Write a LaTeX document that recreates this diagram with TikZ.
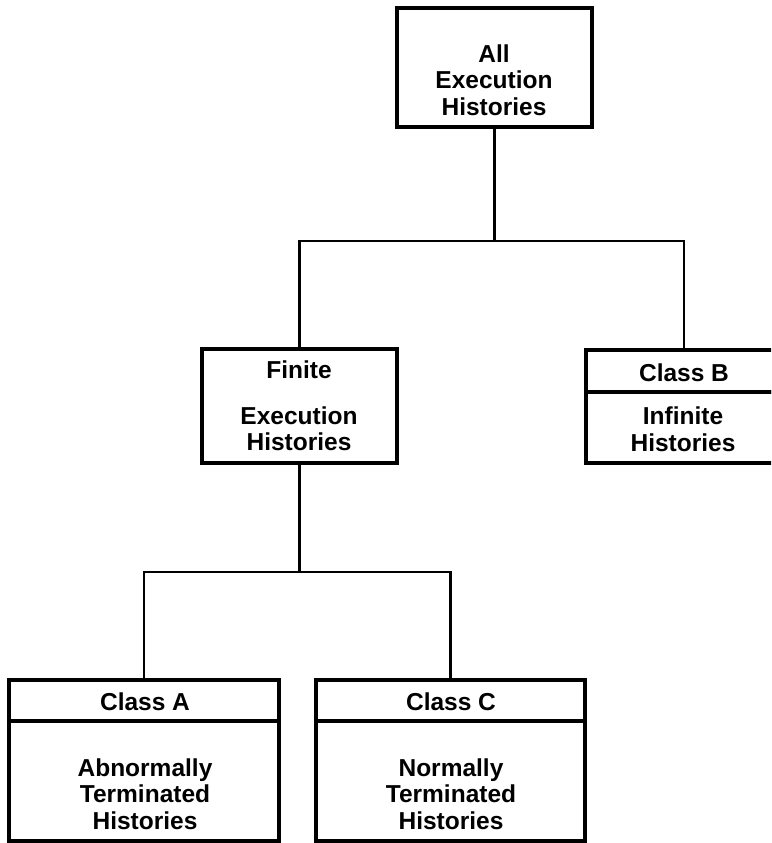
\documentclass[tikz,border=0pt]{standalone}
\usepackage{fontspec}
\setmainfont{Liberation Sans}
\begin{document}
\begin{tikzpicture}[x=1pt,y=-1pt,
  box/.style={draw, line width=3.5pt, inner sep=0pt, outer sep=0pt},
  conn/.style={line width=2.5pt, line join=miter},
  lbl/.style={font=\bfseries\fontsize{24.5}{26.5}\selectfont, align=center, inner sep=0pt}]
\useasboundingbox (0,0) rectangle (771,843);
\clip (0,0) rectangle (771,843);

% boxes
\node[box, minimum width=195pt, minimum height=119pt] (all) at (494.5,67.5) {};
\node[box, minimum width=195pt, minimum height=114pt] (fin) at (299.5,406) {};
\node[box, minimum width=196pt, minimum height=42pt] (clbh) at (684,371) {};
\node[box, minimum width=196pt, minimum height=71pt] (clbb) at (684,427.5) {};
\node[box, minimum width=270pt, minimum height=41pt] (clah) at (144,700.5) {};
\node[box, minimum width=270pt, minimum height=120pt] (clab) at (144,781) {};
\node[box, minimum width=269pt, minimum height=41pt] (clch) at (450.5,700.5) {};
\node[box, minimum width=269pt, minimum height=120pt] (clcb) at (450.5,781) {};

% texts
\node[lbl] (tall) at (494,80) {All\\Execution\\Histories};
\node[lbl] (tfin1) at (299,370) {Finite};
\node[lbl] (tfin2) at (299,428.5) {Execution\\Histories};
\node[lbl] (tclb1) at (684,373) {Class B};
\node[lbl] (tclb2) at (683,429) {Infinite\\Histories};
\node[lbl] (tcla1) at (145,702) {Class A};
\node[lbl] (tcla2) at (145,794) {Abnormally\\Terminated\\Histories};
\node[lbl] (tclc1) at (451,702) {Class C};
\node[lbl] (tclc2) at (451,794) {Normally\\Terminated\\Histories};

% connectors
\coordinate (bar1) at (494.5,241);
\coordinate (bar2) at (299.5,572);
\draw[conn] (all.south) -- (bar1);
\draw[conn] (fin.north) -- (fin.north |- bar1) -- (clbh.north |- bar1) -- (clbh.north);
\draw[conn] (fin.south) -- (bar2);
\draw[conn] (clah.north) -- (clah.north |- bar2) -- (clch.north |- bar2) -- (clch.north);
\end{tikzpicture}
\end{document}
